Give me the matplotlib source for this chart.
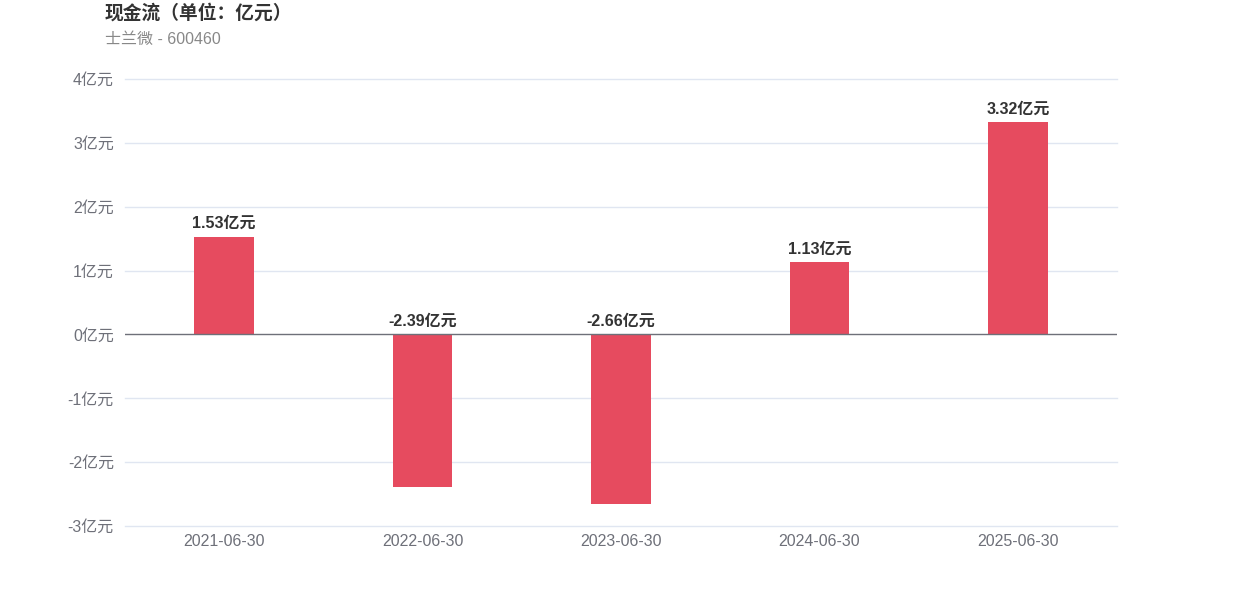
import matplotlib
matplotlib.use("Agg")
import matplotlib.pyplot as plt

plt.rcParams["font.family"] = ["Liberation Sans", "Noto Sans CJK SC", "DejaVu Sans"]

dates = ["2021-06-30", "2022-06-30", "2023-06-30", "2024-06-30", "2025-06-30"]
cash_flow = [1.53, -2.39, -2.66, 1.13, 3.32]
y_ticks = [-3, -2, -1, 0, 1, 2, 3, 4]

fig = plt.figure(figsize=(12.42, 5.96), dpi=100)
ax = fig.add_axes([125 / 1242, 1 - 526 / 596, 992 / 1242, 447 / 596])

x = list(range(len(dates)))
ax.bar(x, cash_flow, width=0.3, color="#E64B5F", zorder=3)

# labels sit above the bar top, or above the zero line for negative values
for xi, v in zip(x, cash_flow):
    ypos = v if v >= 0 else 0
    ax.annotate(f"{v:.2f}亿元", (xi, ypos), xytext=(0, 4), textcoords="offset points",
                ha="center", va="bottom", fontsize=11.5, fontweight="bold", color="#333333")

ax.set_xlim(-0.5, len(dates) - 0.5)
ax.set_ylim(-3, 4)
ax.set_yticks(y_ticks)
ax.set_yticklabels([f"{t}亿元" for t in y_ticks])
ax.set_xticks(x)
ax.set_xticklabels(dates)
ax.tick_params(axis="both", length=0, labelsize=11.5, labelcolor="#6E7079")
ax.tick_params(axis="x", pad=6)
ax.tick_params(axis="y", pad=8)
for t in y_ticks:
    if t != 0:
        ax.axhline(t, color="#E0E6F1", linewidth=1, zorder=0, clip_on=False)
ax.axhline(0, color="#6E7079", linewidth=1, zorder=4)
for s in ax.spines.values():
    s.set_visible(False)

fig.text(105 / 1242, 1 - 13 / 596, "现金流（单位：亿元）", fontsize=13.5, fontweight="bold",
         color="#333333", ha="left", va="center")
fig.text(105 / 1242, 1 - 39 / 596, "士兰微 - 600460", fontsize=11.5, color="#888888",
         ha="left", va="center")

fig.savefig("out.png", dpi=100)
